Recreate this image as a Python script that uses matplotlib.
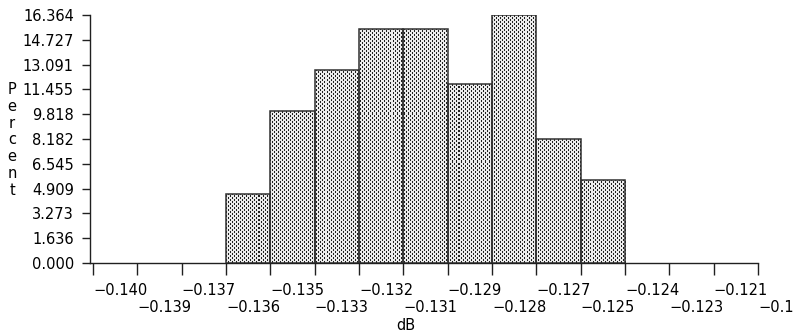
import numpy as np
import matplotlib
matplotlib.use("Agg")
import matplotlib.pyplot as plt

# histogram counts per bin, 110 observations in total
counts = [5, 11, 14, 17, 17, 13, 18, 9, 6]
n_total = 110
bin_start = -0.136
bin_width = 0.004 / 3

# axis ticks
x_ticks = [-0.140 + i * 0.004 / 3 for i in range(16)]
y_max = 18 / n_total * 100
y_ticks = [y_max * i / 10 for i in range(11)]

percent = np.array(counts) / n_total * 100
lefts = bin_start + np.arange(len(counts)) * bin_width

W, H = 793, 332
fig = plt.figure(figsize=(W / 100, H / 100), dpi=100)
ax_l, ax_r, ax_b, ax_t = 90, 758, 263, 15
ax = fig.add_axes([ax_l / W, 1 - ax_b / H, (ax_r - ax_l) / W, (ax_b - ax_t) / H])

font = dict(family="DejaVu Sans", size=10.5)

# stipple texture for the bars
pw, ph = ax_r - ax_l, ax_b - ax_t
yy, xx = np.mgrid[0:ph, 0:pw]
dark = ((yy % 4 < 2) & (xx % 4 == 0)) | ((yy % 4 >= 2) & (xx % 4 == 2))
tex = np.where(dark, 0.12, 0.92)

bars = ax.bar(lefts, percent, width=bin_width, align="edge",
              facecolor="none", edgecolor="#303030", linewidth=1.1, zorder=3)
for b in bars:
    im = ax.imshow(tex, cmap="gray", vmin=0, vmax=1, extent=(0, 1, 0, 1),
                   transform=ax.transAxes, aspect="auto",
                   interpolation="nearest", zorder=2)
    im.set_clip_path(b)

ax.set_xlim(-0.14009, -0.120)
ax.set_ylim(0, y_max)

for s in ["top", "right"]:
    ax.spines[s].set_visible(False)
for s in ["left", "bottom"]:
    ax.spines[s].set_linewidth(1.0)
    ax.spines[s].set_color("#202020")

ax.set_yticks(y_ticks)
ax.set_yticklabels([f"{v:.3f}" for v in y_ticks], fontdict=font)
ax.tick_params(axis="y", length=5.8, width=1.0, pad=5.8, color="#202020")

ax.set_xticks(x_ticks)
ax.set_xticklabels([])
ax.tick_params(axis="x", length=8.6, width=1.0, color="#202020")

# staggered x tick labels, left-aligned at the tick
trans = ax.get_xaxis_transform()
for i, v in enumerate(x_ticks):
    y = -0.109 if i % 2 == 0 else -0.179
    ax.text(v, y, f"\u2212{abs(v):.3f}", transform=trans, ha="left",
            va="center", clip_on=False, **font)

fig.text(406 / W, 1 - 326 / H, "dB", ha="center", va="center", **font)
fig.text(12 / W, 1 - 140 / H, "\n".join("Percent"), ha="center", va="center",
         linespacing=1.15, **font)

fig.savefig("out.png", dpi=100)
